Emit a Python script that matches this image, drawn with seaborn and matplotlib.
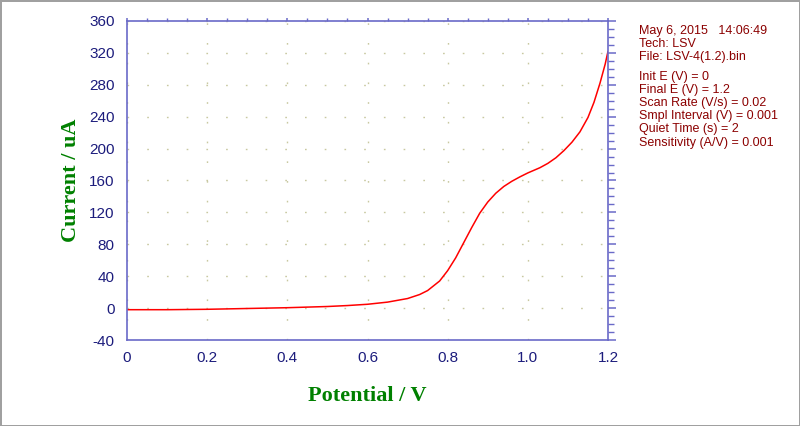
import numpy as np
import pandas as pd
import matplotlib.pyplot as plt
from matplotlib.ticker import MultipleLocator
import seaborn as sns

# LSV curve
potential = [0.0, 0.1, 0.2, 0.3, 0.4, 0.5, 0.55, 0.6, 0.65, 0.7, 0.73, 0.75,
             0.78, 0.80, 0.82, 0.84, 0.86, 0.88, 0.90, 0.92, 0.94, 0.96,
             0.98, 1.00, 1.03, 1.05, 1.07, 1.09, 1.11, 1.13, 1.15, 1.165,
             1.18, 1.193, 1.2]
current = [-2.0, -2.0, -1.5, -0.5, 0.5, 2.0, 3.2, 4.8, 7.5, 12.0, 17.0, 22.0,
           34.0, 47.0, 63.0, 82.0, 101.0, 119.0, 133.0, 144.0, 152.5, 159.0,
           164.5, 169.5, 176.0, 181.5, 188.5, 197.5, 208.0, 221.0, 239.0, 258.0,
           282.0, 306.0, 322.0]

info_lines = [
    'May 6, 2015   14:06:49',
    'Tech: LSV',
    'File: LSV-4(1.2).bin',
    '',
    'Init E (V) = 0',
    'Final E (V) = 1.2',
    'Scan Rate (V/s) = 0.02',
    'Smpl Interval (V) = 0.001',
    'Quiet Time (s) = 2',
    'Sensitivity (A/V) = 0.001',
]

df = pd.DataFrame({'potential': potential, 'current': current})

sns.set_style('white')
plt.rcParams['font.family'] = ['Liberation Sans', 'DejaVu Sans']
plt.rcParams['axes.unicode_minus'] = False

AXIS_C = '#6a6ac8'
LABEL_C = '#1c1c7c'

fig = plt.figure(figsize=(8, 4.26), dpi=100)
fig.patch.set_edgecolor('#a0a0a0')
fig.patch.set_linewidth(2)
ax = fig.add_axes([127 / 800, 1 - 340 / 426, 481 / 800, 319 / 426])

sns.lineplot(data=df, x='potential', y='current', color='red', lw=1.1,
             sort=False, ax=ax)

ax.set_xlim(0, 1.2)
ax.set_ylim(-40, 360)
ax.xaxis.set_major_locator(MultipleLocator(0.2))
ax.xaxis.set_minor_locator(MultipleLocator(0.05))
ax.yaxis.set_major_locator(MultipleLocator(40))
ax.yaxis.set_minor_locator(MultipleLocator(10))
ax.set_xticks(np.arange(0, 1.21, 0.2))
ax.set_xticklabels(['0', '0.2', '0.4', '0.6', '0.8', '1.0', '1.2'])

ax.grid(True, which='major', color='#c8c8a0', lw=1, ls=(0, (1.2, 13)))

for s in ax.spines.values():
    s.set_color(AXIS_C)
    s.set_linewidth(1.2)

ax.tick_params(axis='both', which='both', colors=AXIS_C, labelcolor=LABEL_C,
               labelsize=11, top=True, right=True, direction='out')
ax.tick_params(axis='x', which='both', pad=2)
ax.tick_params(axis='y', which='both', pad=3)
ax.tick_params(which='major', length=6, width=1.1)
ax.tick_params(which='minor', length=4, width=1)
# top axis: short ticks only
for t in ax.xaxis.get_ticklines(minor=False)[1::2] + ax.xaxis.get_ticklines(minor=True)[1::2]:
    t.set_markersize(2.5)

ax.set_xlabel('Potential / V', family=['Liberation Serif'], fontweight='bold',
              fontsize=16, color='#008000', labelpad=15)
ax.set_ylabel('Current / uA', family=['Liberation Serif'], fontweight='bold',
              fontsize=16, color='#008000', labelpad=6)

y = 1 - 31 / 426
for line in info_lines:
    if line:
        fig.text(639 / 800, y, line, fontsize=9, color='#8b0000', va='center')
        y -= 13.2 / 426
    else:
        y -= 6 / 426

fig.savefig('out.png', dpi=100)
